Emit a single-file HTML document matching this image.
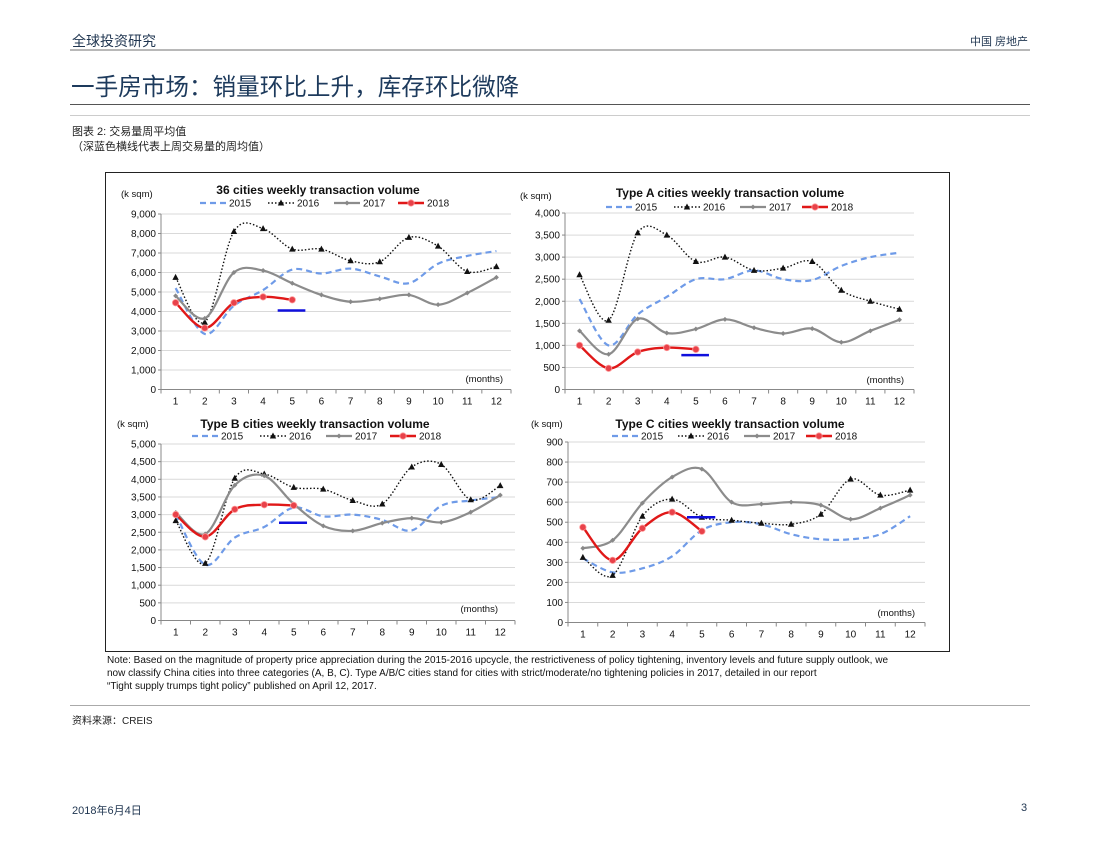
<!DOCTYPE html>
<html><head><meta charset="utf-8">
<style>
body{margin:0;background:#fff;width:1100px;height:850px;overflow:hidden;position:relative;font-family:"Liberation Sans","Noto Sans CJK SC",sans-serif;color:#222}
.t{position:absolute;white-space:nowrap}
.hr{position:absolute;left:70px;width:960px}
</style></head><body>
<div class="t" style="left:72px;top:31px;font-size:14px;color:#1f3550">全球投资研究</div>
<div class="t" style="left:970px;top:33px;font-size:11px;color:#1f3550">中国 房地产</div>
<div class="hr" style="top:49px;height:2px;background:#b8b8b8"></div>
<div class="t" style="left:71px;top:68px;font-size:23.6px;color:#1d3a5c">一手房市场：销量环比上升，库存环比微降</div>
<div class="hr" style="top:104px;height:1px;background:#555"></div>
<div class="hr" style="top:115px;height:1px;background:#ccc"></div>
<div class="t" style="left:72px;top:123px;font-size:11px">图表 2: 交易量周平均值</div>
<div class="t" style="left:72px;top:138px;font-size:11px">（深蓝色横线代表上周交易量的周均值）</div>
<div style="position:absolute;left:105px;top:172px;width:845px;height:480px;border:1px solid #222;box-sizing:border-box"></div>
<svg id="svg" width="1100" height="850" style="position:absolute;left:0;top:0" xmlns="http://www.w3.org/2000/svg"></svg>
<div class="t" style="left:107px;top:654px;font-size:10px;line-height:13px;color:#111">Note: Based on the magnitude of property price appreciation during the 2015-2016 upcycle, the restrictiveness of policy tightening, inventory levels and future supply outlook, we<br>now classify China cities into three categories (A, B, C). Type A/B/C cities stand for cities with strict/moderate/no tightening policies in 2017, detailed in our report<br>“Tight supply trumps tight policy” published on April 12, 2017.</div>
<div class="hr" style="top:705px;height:1px;background:#aaa"></div>
<div class="t" style="left:72px;top:712px;font-size:10px">资料来源：CREIS</div>
<div class="t" style="left:72px;top:802px;font-size:11px;color:#1f3550">2018年6月4日</div>
<div class="t" style="left:1021px;top:802px;font-size:11px;color:#1f3550">3</div>
<script>
const months=[1,2,3,4,5,6,7,8,9,10,11,12];
const c1_2015=[5200,2850,4300,5100,6150,5950,6200,5800,5450,6450,6850,7100];
const c1_2016=[5750,3450,8100,8250,7200,7200,6600,6550,7800,7350,6050,6300];
const c1_2017=[4800,3650,6000,6100,5450,4850,4500,4650,4850,4350,4950,5750];
const c1_2018=[4450,3150,4450,4750,4600];
const c1_last=4050;
const c1_ticks=[0,1000,2000,3000,4000,5000,6000,7000,8000,9000];
const c2_2015=[2050,1000,1700,2100,2500,2500,2700,2500,2480,2800,3000,3100];
const c2_2016=[2600,1570,3550,3500,2900,3000,2700,2750,2900,2250,2000,1820];
const c2_2017=[1330,800,1600,1280,1370,1590,1400,1270,1380,1070,1330,1580];
const c2_2018=[1000,480,850,950,910];
const c2_last=780;
const c2_ticks=[0,500,1000,1500,2000,2500,3000,3500,4000];
const c3_2015=[3000,1580,2350,2650,3200,2950,3000,2850,2550,3250,3400,3500];
const c3_2016=[2830,1620,4030,4150,3770,3720,3400,3300,4350,4420,3420,3820];
const c3_2017=[3060,2450,3830,4100,3300,2680,2540,2760,2900,2780,3070,3550];
const c3_2018=[3000,2370,3150,3280,3260];
const c3_last=2770;
const c3_ticks=[0,500,1000,1500,2000,2500,3000,3500,4000,4500,5000];
const c4_2015=[320,250,270,330,460,500,490,440,415,415,440,530];
const c4_2016=[325,235,530,615,525,510,495,490,540,715,635,660];
const c4_2017=[370,410,595,725,765,600,590,600,585,515,570,635];
const c4_2018=[475,310,470,550,455];
const c4_last=525;
const c4_ticks=[0,100,200,300,400,500,600,700,800,900];

const svg=document.getElementById('svg');
const NS='http://www.w3.org/2000/svg';
function mk(tag,attrs,parent){const e=document.createElementNS(NS,tag);for(const k in attrs)e.setAttribute(k,attrs[k]);(parent||svg).appendChild(e);return e;}
function txt(x,y,s,size,anchor,weight,parent){const e=mk('text',{x:x,y:y,'font-size':size,'text-anchor':anchor||'start','font-family':'Liberation Sans, sans-serif',fill:'#111','font-weight':weight||'normal'},parent);e.textContent=s;return e;}
function smooth(pts){let d='M'+pts[0][0]+','+pts[0][1];for(let i=0;i<pts.length-1;i++){const p0=pts[i-1]||pts[i],p1=pts[i],p2=pts[i+1],p3=pts[i+2]||p2;const c1x=p1[0]+(p2[0]-p0[0])/6,c1y=p1[1]+(p2[1]-p0[1])/6,c2x=p2[0]-(p3[0]-p1[0])/6,c2y=p2[1]-(p3[1]-p1[1])/6;d+=' C'+c1x+','+c1y+' '+c2x+','+c2y+' '+p2[0]+','+p2[1];}return d;}
function marker(g,type,x,y){
  if(type==='tri')mk('path',{d:`M${x},${y-3.5}L${x+3.2},${y+2.5}L${x-3.2},${y+2.5}Z`,fill:'#111'},g);
  else if(type==='dia')mk('path',{d:`M${x},${y-2.5}L${x+2.5},${y}L${x},${y+2.5}L${x-2.5},${y}Z`,fill:'#888'},g);
  else if(type==='cir')mk('circle',{cx:x,cy:y,r:3.2,fill:'#e8424a',stroke:'#ff9999','stroke-width':0.8},g);
}
const styles=[
  {name:'2015',stroke:'#6f9be8',w:2.2,dash:'6,4',m:null},
  {name:'2016',stroke:'#111',w:1.4,dash:'1.5,2',m:'tri'},
  {name:'2017',stroke:'#8c8c8c',w:2.2,dash:null,m:'dia'},
  {name:'2018',stroke:'#e01818',w:2.4,dash:null,m:'cir'}
];
function drawChart(c){
  const g=mk('g',{});
  
  
  const max=c.ticks[c.ticks.length-1];
  const y=v=>c.y0-(v/max)*(c.y0-c.yTop);
  const bw=(c.xR-c.xL)/12;
  const x=m=>c.xL+bw*(m-0.5);
  c.ticks.forEach(t=>{
    if(t>0)mk('line',{x1:c.xL,x2:c.xR,y1:y(t),y2:y(t),stroke:'#d9d9d9','stroke-width':1},g);
    const l=txt(c.xL-5,y(t)+3.5,t.toLocaleString('en-US'),10,'end',null,g);
    
    
    mk('line',{x1:c.xL-3,x2:c.xL,y1:y(t),y2:y(t),stroke:'#888'},g);
  });
  mk('line',{x1:c.xL,x2:c.xL,y1:c.yTop,y2:c.y0,stroke:'#888'},g);
  mk('line',{x1:c.xL,x2:c.xR,y1:c.y0,y2:c.y0,stroke:'#888'},g);
  months.forEach((m,i)=>{
    mk('line',{x1:c.xL+bw*i,x2:c.xL+bw*i,y1:c.y0,y2:c.y0+4,stroke:'#888'},g);
    const l=txt(x(m),c.y0+15,String(m),10,'middle',null,g);
    
    
  });
  mk('line',{x1:c.xR,x2:c.xR,y1:c.y0,y2:c.y0+4,stroke:'#888'},g);
  const tl=txt(c.tx,c.ty,c.title,12,'middle','bold',g);
  
  
  const u=txt(c.ux,c.uy,'(k sqm)',9.5,'start',null,g);
  
  
  const mo=txt(c.mx,c.my,'(months)',9.5,'end',null,g);
  
  
  c.series.forEach((data,si)=>{
    const s=styles[si];
    const pts=data.map((v,i)=>[x(months[i]),y(v)]);
    const p=mk('path',{d:smooth(pts),fill:'none',stroke:s.stroke,'stroke-width':s.w},g);
    if(s.dash)p.setAttribute('stroke-dasharray',s.dash);
    
    
    if(s.m)pts.forEach(pt=>marker(g,s.m,pt[0],pt[1]));
    const lx=c.lx[si],ly=c.ly;
    const ll=mk('line',{x1:lx,x2:lx+26,y1:ly,y2:ly,stroke:s.stroke,'stroke-width':s.w},g);
    if(s.dash)ll.setAttribute('stroke-dasharray',s.dash);
    if(s.m)marker(g,s.m,lx+13,ly);
    const lt=txt(lx+29,ly+3.5,s.name,10,'start',null,g);
    
    
  });
  const bl=mk('line',{x1:x(4.5),x2:x(5.45),y1:y(c.last),y2:y(c.last),stroke:'#1010dd','stroke-width':2.5},g);
  
  
}
drawChart({id:'chart-36-cities',xL:161,xR:511,yTop:214,y0:389.5,ticks:c1_ticks,series:[c1_2015,c1_2016,c1_2017,c1_2018],last:c1_last,title:'36 cities weekly transaction volume',tx:318,ty:194,ux:121,uy:197,mx:503,my:382,lx:[200,268,334,398],ly:203});
drawChart({id:'chart-type-a',xL:565,xR:914,yTop:213,y0:389.5,ticks:c2_ticks,series:[c2_2015,c2_2016,c2_2017,c2_2018],last:c2_last,title:'Type A cities weekly transaction volume',tx:730,ty:197,ux:520,uy:199,mx:904,my:383,lx:[606,674,740,802],ly:207});
drawChart({id:'chart-type-b',xL:161,xR:515,yTop:444,y0:620.5,ticks:c3_ticks,series:[c3_2015,c3_2016,c3_2017,c3_2018],last:c3_last,title:'Type B cities weekly transaction volume',tx:315,ty:428,ux:117,uy:427,mx:498,my:612,lx:[192,260,326,390],ly:436});
drawChart({id:'chart-type-c',xL:568,xR:925,yTop:442,y0:622.5,ticks:c4_ticks,series:[c4_2015,c4_2016,c4_2017,c4_2018],last:c4_last,title:'Type C cities weekly transaction volume',tx:730,ty:428,ux:531,uy:427,mx:915,my:616,lx:[612,678,744,806],ly:436});
</script>
</body></html>
